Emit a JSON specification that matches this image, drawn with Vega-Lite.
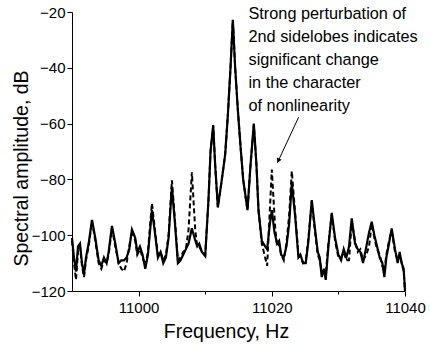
{
  "$schema": "https://vega.github.io/schema/vega-lite/v6.json",
  "autosize": "none",
  "width": 333,
  "height": 279,
  "padding": {"left": 72, "top": 12, "right": 25, "bottom": 54},
  "background": "white",
  "config": {
    "view": {"stroke": null},
    "font": "Liberation Sans",
    "axis": {"grid": false, "domainColor": "black", "tickColor": "black", "labelColor": "black", "titleColor": "black", "labelFont": "Liberation Sans", "titleFont": "Liberation Sans", "titleFontWeight": "normal", "labelFontSize": 15, "titleFontSize": 19.5, "domainWidth": 1, "tickWidth": 1}
  },
  "datasets": {
    "solid": [
      {"f":10990.0,"a":-101},{"f":10990.3,"a":-108},{"f":10990.6,"a":-113},{"f":10990.9,"a":-104},{"f":10991.2,"a":-103},{"f":10991.5,"a":-110},{"f":10991.8,"a":-114},{"f":10992.1,"a":-108},{"f":10992.5,"a":-103},{"f":10993.0,"a":-94.5},{"f":10993.5,"a":-101},{"f":10994.0,"a":-109},{"f":10994.4,"a":-111},{"f":10994.8,"a":-108},{"f":10995.2,"a":-110},{"f":10995.5,"a":-106},{"f":10996.0,"a":-96.7},{"f":10996.5,"a":-103},{"f":10997.0,"a":-110},{"f":10997.4,"a":-109},{"f":10997.8,"a":-109},{"f":10998.2,"a":-108},{"f":10998.6,"a":-105},{"f":10999.0,"a":-98},{"f":10999.5,"a":-101},{"f":10999.8,"a":-106},{"f":11000.2,"a":-104},{"f":11000.6,"a":-107},{"f":11001.0,"a":-112},{"f":11001.4,"a":-107},{"f":11002.0,"a":-91},{"f":11002.5,"a":-100},{"f":11002.9,"a":-108},{"f":11003.3,"a":-106},{"f":11003.7,"a":-110},{"f":11004.1,"a":-108},{"f":11004.5,"a":-101},{"f":11005.0,"a":-82.6},{"f":11005.5,"a":-97},{"f":11005.9,"a":-110},{"f":11006.3,"a":-109},{"f":11006.7,"a":-107},{"f":11007.1,"a":-105},{"f":11007.5,"a":-103},{"f":11008.0,"a":-97.5},{"f":11008.4,"a":-101},{"f":11008.8,"a":-104},{"f":11009.1,"a":-103},{"f":11009.5,"a":-106},{"f":11010.0,"a":-107.5},{"f":11010.5,"a":-87},{"f":11010.8,"a":-70},{"f":11011.2,"a":-60.5},{"f":11011.5,"a":-75},{"f":11011.9,"a":-90},{"f":11012.5,"a":-80},{"f":11013.0,"a":-71},{"f":11013.4,"a":-57},{"f":11013.8,"a":-40},{"f":11014.15,"a":-22.8},{"f":11014.5,"a":-40},{"f":11014.9,"a":-55},{"f":11015.3,"a":-68},{"f":11015.7,"a":-80},{"f":11016.35,"a":-91},{"f":11016.8,"a":-75},{"f":11017.3,"a":-60},{"f":11017.7,"a":-75},{"f":11018.0,"a":-91},{"f":11018.5,"a":-102},{"f":11019.0,"a":-104},{"f":11019.3,"a":-105},{"f":11019.7,"a":-96},{"f":11020.0,"a":-91},{"f":11020.4,"a":-99},{"f":11020.8,"a":-103},{"f":11021.1,"a":-102},{"f":11021.4,"a":-107},{"f":11021.8,"a":-108},{"f":11022.2,"a":-104},{"f":11022.6,"a":-96},{"f":11023.0,"a":-81.4},{"f":11023.5,"a":-93},{"f":11024.0,"a":-108},{"f":11024.3,"a":-107},{"f":11024.7,"a":-110},{"f":11025.1,"a":-110},{"f":11025.5,"a":-102},{"f":11026.0,"a":-87.4},{"f":11026.5,"a":-98},{"f":11026.9,"a":-106},{"f":11027.2,"a":-108},{"f":11027.5,"a":-115},{"f":11027.8,"a":-112},{"f":11028.1,"a":-116},{"f":11028.5,"a":-104},{"f":11029.0,"a":-92},{"f":11029.5,"a":-101},{"f":11030.0,"a":-107},{"f":11030.4,"a":-109},{"f":11030.8,"a":-105},{"f":11031.2,"a":-108},{"f":11031.6,"a":-104},{"f":11032.0,"a":-94},{"f":11032.5,"a":-103},{"f":11032.9,"a":-105},{"f":11033.3,"a":-106},{"f":11033.7,"a":-110},{"f":11034.2,"a":-104},{"f":11034.6,"a":-99},{"f":11035.0,"a":-95.2},{"f":11035.4,"a":-100},{"f":11035.8,"a":-104},{"f":11036.2,"a":-108},{"f":11036.6,"a":-110},{"f":11036.9,"a":-115},{"f":11037.2,"a":-108},{"f":11037.6,"a":-103},{"f":11038.0,"a":-97.6},{"f":11038.5,"a":-105},{"f":11038.9,"a":-110},{"f":11039.2,"a":-106},{"f":11039.5,"a":-110},{"f":11039.8,"a":-112},{"f":11040.0,"a":-120}
    ],
    "dashed": [
      {"f":10990.0,"a":-102},{"f":10990.3,"a":-110},{"f":10990.6,"a":-116},{"f":10990.9,"a":-106},{"f":10991.2,"a":-104},{"f":10991.5,"a":-111},{"f":10991.8,"a":-115},{"f":10992.1,"a":-109},{"f":10992.5,"a":-104},{"f":10993.0,"a":-95},{"f":10993.5,"a":-102},{"f":10994.0,"a":-110},{"f":10994.4,"a":-112},{"f":10994.8,"a":-109},{"f":10995.2,"a":-110},{"f":10995.5,"a":-107},{"f":10996.0,"a":-97.5},{"f":10996.5,"a":-104},{"f":10997.0,"a":-110},{"f":10997.4,"a":-112},{"f":10997.8,"a":-113},{"f":10998.2,"a":-110},{"f":10998.6,"a":-104},{"f":10999.0,"a":-98.5},{"f":10999.5,"a":-102},{"f":10999.8,"a":-107},{"f":11000.2,"a":-105},{"f":11000.6,"a":-108},{"f":11001.0,"a":-111},{"f":11001.4,"a":-106},{"f":11002.0,"a":-88.5},{"f":11002.5,"a":-99},{"f":11002.9,"a":-107},{"f":11003.3,"a":-106},{"f":11003.7,"a":-109},{"f":11004.1,"a":-107},{"f":11004.5,"a":-100},{"f":11005.0,"a":-80.3},{"f":11005.5,"a":-96},{"f":11005.9,"a":-109},{"f":11006.3,"a":-108},{"f":11006.7,"a":-106},{"f":11007.1,"a":-105},{"f":11007.5,"a":-98},{"f":11008.0,"a":-77.5},{"f":11008.5,"a":-98},{"f":11008.8,"a":-104},{"f":11009.1,"a":-104},{"f":11009.5,"a":-106},{"f":11010.0,"a":-107},{"f":11010.5,"a":-87},{"f":11010.8,"a":-70},{"f":11011.2,"a":-61},{"f":11011.5,"a":-75},{"f":11011.9,"a":-90},{"f":11012.5,"a":-80},{"f":11013.0,"a":-71},{"f":11013.4,"a":-57},{"f":11013.8,"a":-40},{"f":11014.15,"a":-23},{"f":11014.5,"a":-40},{"f":11014.9,"a":-55},{"f":11015.3,"a":-68},{"f":11015.7,"a":-80},{"f":11016.35,"a":-91},{"f":11016.8,"a":-75},{"f":11017.3,"a":-60.5},{"f":11017.7,"a":-75},{"f":11018.0,"a":-91},{"f":11018.5,"a":-103},{"f":11019.0,"a":-108},{"f":11019.3,"a":-111},{"f":11020.0,"a":-76.5},{"f":11020.5,"a":-97},{"f":11020.8,"a":-104},{"f":11021.1,"a":-103},{"f":11021.4,"a":-107},{"f":11021.8,"a":-109},{"f":11022.2,"a":-103},{"f":11022.6,"a":-93},{"f":11023.0,"a":-77},{"f":11023.5,"a":-92},{"f":11024.0,"a":-107},{"f":11024.3,"a":-108},{"f":11024.7,"a":-110},{"f":11025.1,"a":-109},{"f":11025.5,"a":-101},{"f":11026.0,"a":-88},{"f":11026.5,"a":-99},{"f":11026.9,"a":-107},{"f":11027.2,"a":-109},{"f":11027.5,"a":-113},{"f":11027.8,"a":-113},{"f":11028.1,"a":-114},{"f":11028.5,"a":-103},{"f":11029.0,"a":-92.5},{"f":11029.5,"a":-102},{"f":11030.0,"a":-108},{"f":11030.4,"a":-108},{"f":11030.8,"a":-106},{"f":11031.2,"a":-109},{"f":11031.6,"a":-109},{"f":11032.0,"a":-95},{"f":11032.5,"a":-102},{"f":11032.9,"a":-106},{"f":11033.3,"a":-105},{"f":11033.7,"a":-109},{"f":11034.2,"a":-107},{"f":11034.6,"a":-104},{"f":11035.0,"a":-96},{"f":11035.4,"a":-101},{"f":11035.8,"a":-105},{"f":11036.2,"a":-107},{"f":11036.6,"a":-111},{"f":11036.9,"a":-113},{"f":11037.2,"a":-107},{"f":11037.6,"a":-102},{"f":11038.0,"a":-98.5},{"f":11038.5,"a":-106},{"f":11038.9,"a":-109},{"f":11039.2,"a":-107},{"f":11039.5,"a":-110},{"f":11039.8,"a":-113},{"f":11040.0,"a":-120}
    ],
    "note": [
      {"f":11016.5,"a":-22.6,"t":"Strong perturbation of\n2nd sidelobes indicates\nsignificant change\nin the character\nof nonlinearity"}
    ],
    "arrow": [
      {"f":11024.03,"a":-57.7,"f2":11020.85,"a2":-74.0}
    ],
    "head": [
      {"f":11020.98,"a":-73.3}
    ]
  },
  "layer": [
    {
      "data": {"name": "dashed"},
      "mark": {"type": "line", "color": "black", "strokeWidth": 2, "strokeDash": [5, 3], "interpolate": "linear"},
      "encoding": {
        "x": {"field": "f", "type": "quantitative", "scale": {"domain": [10990, 11040], "nice": false, "zero": false},
          "axis": {"title": "Frequency, Hz", "values": [11000, 11010, 11020, 11030, 11040], "format": "d", "labelExpr": "datum.value % 20 === 0 ? datum.label : ''", "tickSize": {"condition": {"test": "datum.value % 20 === 0", "value": 5}, "value": 3}, "labelPadding": 4, "labelFlush": false, "labelOverlap": false, "titleX": 154, "titleY": 46, "titleBaseline": "alphabetic", "titleAnchor": null}},
        "y": {"field": "a", "type": "quantitative", "scale": {"domain": [-120, -20], "nice": false, "zero": false},
          "axis": {"title": "Spectral amplitude, dB", "values": [-120, -110, -100, -90, -80, -70, -60, -50, -40, -30, -20], "format": "d", "labelExpr": "datum.value % 20 === 0 ? datum.label : ''", "tickSize": {"condition": {"test": "datum.value % 20 === 0", "value": 5}, "value": 3}, "labelPadding": 2, "labelOverlap": false, "labelFlush": false, "titleX": -45, "titleY": 156, "titleBaseline": "alphabetic", "titleAngle": -90}}
      }
    },
    {
      "data": {"name": "solid"},
      "mark": {"type": "line", "color": "black", "strokeWidth": 2.2, "interpolate": "linear"},
      "encoding": {
        "x": {"field": "f", "type": "quantitative"},
        "y": {"field": "a", "type": "quantitative"}
      }
    },
    {
      "data": {"name": "arrow"},
      "mark": {"type": "rule", "color": "black", "strokeWidth": 1},
      "encoding": {
        "x": {"field": "f", "type": "quantitative"},
        "y": {"field": "a", "type": "quantitative"},
        "x2": {"field": "f2"},
        "y2": {"field": "a2"}
      }
    },
    {
      "data": {"name": "head"},
      "mark": {"type": "point", "shape": "triangle-down", "filled": true, "color": "black", "size": 28, "angle": 25, "opacity": 1},
      "encoding": {
        "x": {"field": "f", "type": "quantitative"},
        "y": {"field": "a", "type": "quantitative"}
      }
    },
    {
      "data": {"name": "note"},
      "mark": {"type": "text", "align": "left", "baseline": "alphabetic", "lineBreak": "\n", "lineHeight": 23, "fontSize": 16.3, "font": "Liberation Sans", "color": "black"},
      "encoding": {
        "x": {"field": "f", "type": "quantitative"},
        "y": {"field": "a", "type": "quantitative"},
        "text": {"field": "t"}
      }
    }
  ]
}
